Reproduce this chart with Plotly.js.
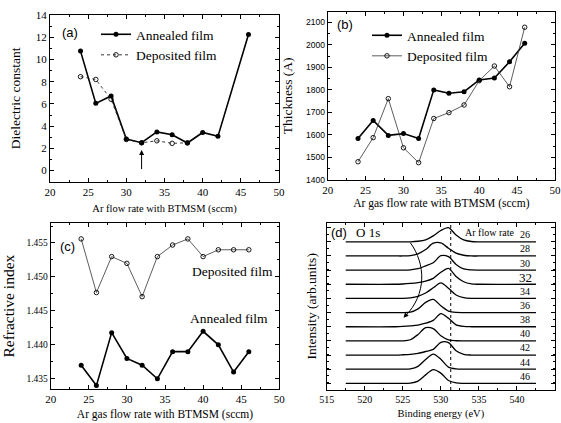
<!DOCTYPE html>
<html>
<head>
<meta charset="utf-8">
<script src="https://cdn.plot.ly/plotly-3.0.1.min.js"></script>
<style>html,body{margin:0;padding:0;background:#fff;}#chart{width:561px;height:423px;}</style>
</head>
<body>
<div id="chart"></div>
<script>
// ---------- DATA ----------
// (a) dielectric constant
const flowA_annealed = [24, 26, 28, 30, 32, 34, 36, 38, 40, 42, 46];
const dielAnnealed   = [10.75, 6.05, 6.72, 2.84, 2.51, 3.48, 3.22, 2.48, 3.43, 3.08, 12.25];
const flowA_deposited = [24, 26, 28, 30, 32, 34, 36, 38];
const dielDeposited   = [8.45, 8.2, 6.42, 2.8, 2.5, 2.68, 2.45, 2.5];

// (b) thickness
const flowB = [24, 26, 28, 30, 32, 34, 36, 38, 40, 42, 44, 46];
const thickAnnealed  = [1584, 1664, 1598, 1606, 1584, 1800, 1785, 1792, 1844, 1853, 1925, 2007];
const thickDeposited = [1481, 1588, 1761, 1543, 1477, 1673, 1699, 1733, 1841, 1906, 1814, 2078];

// (c) refractive index
const flowC = [24, 26, 28, 30, 32, 34, 36, 38, 40, 42, 44, 46];
const nAnnealed  = [1.4370, 1.4340, 1.4418, 1.4380, 1.4370, 1.4350, 1.4390, 1.4390, 1.4420, 1.4400, 1.4360, 1.4390];
const nDeposited = [1.4556, 1.4477, 1.4530, 1.4520, 1.4471, 1.4530, 1.4547, 1.4556, 1.4530, 1.4540, 1.4540, 1.4540];

// (d) O 1s XPS spectra (intensity above each curve's own baseline, arb. units)
const bindingEnergy = [517.5, 524, 525, 526, 527, 528, 529, 530, 531, 532, 533, 534, 535, 542.5];
const flowLabels = ['26', '28', '30', '32', '34', '36', '38', '40', '42', '44', '46'];
const baselines  = [10.47, 9.47, 8.47, 7.47, 6.47, 5.47, 4.47, 3.47, 2.47, 1.47, 0.47];
const s26 = [0, 0, 0, 0, 0.04, 0.14, 0.42, 0.80, 1.00, 0.48, 0.13, 0.02, 0, 0];
const s28 = [0, 0, 0, 0.02, 0.15, 0.45, 0.90, 0.92, 0.55, 0.20, 0.05, 0, 0, 0];
const s30 = [0, 0, 0, 0.02, 0.10, 0.30, 0.52, 1.02, 0.95, 0.40, 0.08, 0.01, 0, 0];
const s32 = [0, 0, 0.02, 0.06, 0.12, 0.22, 0.42, 0.85, 1.12, 0.55, 0.18, 0.03, 0, 0];
const s34 = [0, 0, 0, 0.04, 0.15, 0.38, 0.75, 1.10, 0.72, 0.24, 0.05, 0, 0, 0];
const s36 = [0, 0, 0, 0.03, 0.26, 0.72, 0.93, 0.48, 0.10, 0.01, 0, 0, 0, 0];
const s38 = [0, 0, 0.02, 0.06, 0.12, 0.25, 0.45, 0.92, 0.60, 0.13, 0.02, 0, 0, 0];
const s40 = [0, 0, 0, 0.08, 0.45, 0.93, 0.86, 0.36, 0.07, 0.01, 0, 0, 0, 0];
const s42 = [0, 0, 0.02, 0.05, 0.12, 0.25, 0.40, 0.90, 0.88, 0.30, 0.05, 0, 0, 0];
const s44 = [0, 0, 0, 0.02, 0.20, 0.68, 1.06, 0.70, 0.15, 0.02, 0, 0, 0, 0];
const s46 = [0, 0, 0, 0.02, 0.16, 0.60, 0.97, 0.72, 0.20, 0.03, 0, 0, 0, 0];
const spectraList = [s26, s28, s30, s32, s34, s36, s38, s40, s42, s44, s46];

// ---------- STYLE ----------
const SERIF = 'Liberation Serif';
const SANS = 'Liberation Sans';
const W = 561, H = 423;
const px = v => v / W;
const py = v => 1 - v / H;

const traces = [];
const annStyle = {color: '#000', width: 1.6};
const annMarker = {color: '#000', size: 5, symbol: 'circle'};
const depMarker = {color: '#000', size: 4.5, symbol: 'circle-open', line: {width: 0.9, color: '#000'}};

// (a)
traces.push({x: flowA_annealed, y: dielAnnealed, xaxis: 'x', yaxis: 'y', mode: 'lines+markers',
  name: 'Annealed film', line: annStyle, marker: annMarker, legend: 'legend'});
traces.push({x: flowA_deposited, y: dielDeposited, xaxis: 'x', yaxis: 'y', mode: 'lines+markers',
  name: 'Deposited film', line: {color: '#222', width: 0.9, dash: 'dot'}, marker: depMarker, legend: 'legend'});
// (b)
traces.push({x: flowB, y: thickAnnealed, xaxis: 'x2', yaxis: 'y2', mode: 'lines+markers',
  name: 'Annealed film', line: annStyle, marker: annMarker, legend: 'legend2'});
traces.push({x: flowB, y: thickDeposited, xaxis: 'x2', yaxis: 'y2', mode: 'lines+markers',
  name: 'Deposited film', line: {color: '#333', width: 0.8}, marker: depMarker, legend: 'legend2'});
// (c)
traces.push({x: flowC, y: nDeposited, xaxis: 'x3', yaxis: 'y3', mode: 'lines+markers',
  name: 'Deposited film', line: {color: '#333', width: 0.8}, marker: depMarker, showlegend: false});
traces.push({x: flowC, y: nAnnealed, xaxis: 'x3', yaxis: 'y3', mode: 'lines+markers',
  name: 'Annealed film', line: annStyle, marker: annMarker, showlegend: false});
// (d)
spectraList.forEach((s, i) => {
  traces.push({x: bindingEnergy, y: s.map(v => v + baselines[i]), xaxis: 'x4', yaxis: 'y4',
    mode: 'lines', name: flowLabels[i] + ' sccm', line: {color: '#000', width: 1.3, shape: 'spline', smoothing: 0.8},
    showlegend: false});
});

function ax(domain, range, dtick, minorDtick, titleText, titleSize, standoff, tickSize) {
  return {
    domain: domain, range: range, dtick: dtick, tick0: range[0], ticks: 'inside', ticklen: 4,
    tickwidth: 1, tickcolor: '#000', minor: {dtick: minorDtick, ticks: 'inside', ticklen: 2, tickcolor: '#000'},
    showline: true, linecolor: '#000', linewidth: 1, mirror: 'allticks', showgrid: false, zeroline: false,
    tickfont: {family: SERIF, size: tickSize, color: '#000'},
    title: {text: titleText, font: {family: SERIF, size: titleSize, color: '#000'}, standoff: standoff}
  };
}

function label(x, y, text, family, size) {
  return {xref: 'paper', yref: 'paper', x: px(x), y: py(y), xanchor: 'center', yanchor: 'middle',
    text: text, showarrow: false, font: {family: family, size: size, color: '#000'}};
}

const layout = {
  width: W, height: H, margin: {l: 0, r: 0, t: 0, b: 0},
  paper_bgcolor: '#fff', plot_bgcolor: 'rgba(0,0,0,0)',
  font: {family: SERIF, color: '#000'},
  xaxis: Object.assign(ax([px(50), px(279)], [20, 50], 5, 2.5, 'Ar flow rate with BTMSM (sccm)', 10.5, 7, 11), {anchor: 'y'}),
  yaxis: Object.assign(ax([py(181.7), py(15)], [-1, 14], 2, 1, 'Dielectric constant', 13.5, 12, 11), {anchor: 'x', tick0: 0}),
  xaxis2: Object.assign(ax([px(327.7), px(555)], [20, 50], 5, 2.5, 'Ar gas flow rate with BTMSM (sccm)', 11.5, 3, 11), {anchor: 'y2'}),
  yaxis2: Object.assign(ax([py(180), py(11.7)], [1400, 2147], 100, 50, 'Thickness (A)', 13.5, 10, 8.5), {anchor: 'x2', tick0: 1400,
    tickfont: {family: SANS, size: 8.5, color: '#000'}}),
  xaxis3: Object.assign(ax([px(50.7), px(279.3)], [20, 50], 5, 2.5, 'Ar gas flow rate with BTMSM (sccm)', 11.5, 5, 11), {anchor: 'y3'}),
  yaxis3: Object.assign(ax([py(389), py(223.3)], [1.4335, 1.4579], 0.005, 0.0025, 'Refractive index', 15.5, 8, 9.5), {anchor: 'x3', tick0: 1.435, tickformat: '.3f'}),
  xaxis4: Object.assign(ax([px(326.7), px(555)], [515, 545], 5, 2.5, 'Binding energy (eV)', 10.5, 5, 10), {anchor: 'y4'}),
  yaxis4: Object.assign(ax([py(390), py(222.7)], [0, 11.82], 1, 0.5, 'Intensity (arb.units)', 13.5, 5, 10), {anchor: 'x4', tick0: 0.47, showticklabels: false}),
  legend: {x: px(96), y: py(19), xanchor: 'left', yanchor: 'top', bgcolor: 'rgba(0,0,0,0)',
    font: {family: SERIF, size: 13.5, color: '#000'}},
  legend2: {x: px(367), y: py(20), xanchor: 'left', yanchor: 'top', bgcolor: 'rgba(0,0,0,0)',
    font: {family: SERIF, size: 13.5, color: '#000'}},
  shapes: [
    {type: 'line', xref: 'x4', yref: 'y4 domain', x0: 531.3, x1: 531.3, y0: 0, y1: 1,
      line: {color: '#000', width: 1, dash: 'dot'}},
    {type: 'path', xref: 'x4', yref: 'y4', path: 'M 526.0,10.4 C 528.0,8.9 528.2,6.8 525.3,5.2',
      line: {color: '#000', width: 1}}
  ],
  annotations: [
    label(69.5, 32, '(a)', SANS, 13),
    label(345, 25, '(b)', SANS, 13),
    label(67.5, 246.7, '(c)', SANS, 13),
    label(339, 232.7, '(d)', SANS, 13),
    label(367.5, 232.7, 'O 1s', SERIF, 13),
    label(489.5, 232.7, 'Ar flow rate', SERIF, 10),
    label(232.7, 271.7, 'Deposited film', SERIF, 13.5),
    label(229.2, 318.3, 'Annealed film', SERIF, 13.5),
    {xref: 'x', yref: 'y', x: 32, y: 1.85, ax: 32, ay: 0, axref: 'x', ayref: 'y', text: '',
      showarrow: true, arrowhead: 2, arrowsize: 1, arrowwidth: 1, arrowcolor: '#000'},
    {xref: 'x4', yref: 'y4', x: 525.1, y: 5.1, ax: 525.5, ay: 5.35, axref: 'x4', ayref: 'y4', text: '',
      showarrow: true, arrowhead: 2, arrowsize: 1, arrowwidth: 1, arrowcolor: '#000'}
  ]
};

flowLabels.forEach((lab, i) => {
  layout.annotations.push({xref: 'x4', yref: 'y4', x: 541.1, y: baselines[i] + 0.5, text: lab,
    xanchor: 'center', yanchor: 'middle',
    showarrow: false, font: {family: SERIF, size: lab === '32' ? 13 : 10, color: '#000'}});
});

Plotly.newPlot('chart', traces, layout, {staticPlot: true, displayModeBar: false});
</script>
</body>
</html>
